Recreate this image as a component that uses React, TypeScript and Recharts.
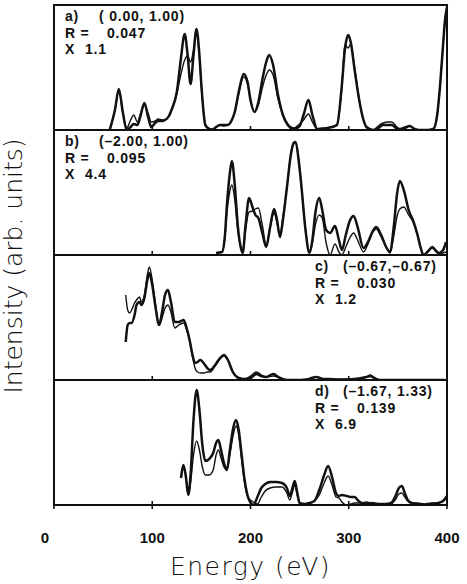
import { LineChart, Line, XAxis, YAxis } from "recharts"

// panel a) ( 0.00, 1.00)
const aEnergy = [57, 62, 66, 70, 74, 78, 81, 85, 88, 92, 96, 99, 103, 106, 110, 113, 117, 120, 125, 129, 133, 136, 139, 142, 145, 148, 150, 154, 158, 161, 165, 169, 173, 177, 181, 184, 188, 193, 197, 200, 204, 208, 212, 216, 219, 223, 228, 233, 238, 244, 250, 254, 259, 263, 268, 273, 278, 283, 288, 293, 296, 299.5, 302, 306, 311, 315, 318, 325, 330, 335, 340, 344, 348, 352, 357, 362, 367, 372, 380, 386, 390, 393, 396, 398, 400]
const aTheory = [1, 20, 41, 18, 0, 3, 6, 5, 14, 27, 12, 3, 7, 9, 9, 10, 14, 21, 38, 70, 96, 75, 46, 75, 101, 75, 45, 5, 1, 0, 3, 5, 5, 5, 10, 18, 38, 56, 48, 30, 18, 28, 50, 68, 75, 65, 35, 15, 5, 1, 4, 15, 30, 15, 1, 1, 2, 3, 5, 45, 80, 95, 88, 60, 28, 10, 3, 0, 2, 5, 5, 5, 2, 1, 2, 4, 1, 0, 0, 1, 15, 45, 85, 110, 123]
const aExpt = [1, 20, 40, 18, 2, 10, 15, 8, 16, 25, 16, 8, 9, 11, 10, 10, 14, 21, 36, 55, 70, 74, 68, 80, 97, 72, 43, 6, 1, 1, 3, 5, 4, 5, 10, 18, 36, 53, 46, 30, 18, 25, 42, 55, 60, 55, 31, 15, 6, 2, 6, 10, 16, 8, 1, 2, 2, 3, 5, 43, 85, 82, 86, 62, 28, 10, 3, 0, 4, 7, 8, 8, 4, 1, 3, 4, 1, 0, 0, 1, 15, 45, 85, 110, 123]

// panel b) (-2.00, 1.00)
const bEnergy = [165, 171, 174, 176, 179, 181, 184, 187, 190, 192, 195, 198.5, 202, 205, 208, 212, 216, 220, 224, 227, 230, 233, 237, 241, 244, 246, 249, 252, 256, 260, 263, 266, 270, 273, 277, 281, 286, 290, 293, 297, 301, 305, 309, 315, 320, 324, 328, 333, 338, 342, 346, 349, 352, 356, 361, 366, 370, 373, 376, 381, 385, 389, 392, 396, 399]
const bTheory = [2, 3, 20, 50, 82, 94, 70, 30, 8, 2, 30, 57, 48, 40, 37, 22, 8, 28, 46, 35, 18, 35, 67, 100, 112, 113, 95, 67, 25, 2, 15, 42, 57, 45, 25, 22, 29, 15, 5, 20, 34, 39, 28, 7, 14, 23, 28, 20, 8, 3, 30, 60, 74, 65, 45, 33, 20, 8, 0, 4, 8, 4, 2, 5, 13]
const bExpt = [2, 3, 18, 42, 64, 70, 55, 25, 8, 3, 25, 43, 44, 46, 47, 30, 10, 28, 42, 32, 20, 38, 67, 100, 112, 112, 95, 67, 25, 3, 12, 30, 40, 37, 12, 0, 11, 3, 0, 8, 17, 22, 15, 3, 12, 22, 26, 18, 8, 2, 20, 38, 46, 48, 40, 32, 20, 8, 0, 4, 7, 3, 1, 2, 3]

// panel c) (-0.67,-0.67)
const cEnergy = [73, 75, 77, 79, 82, 84, 87, 89, 92, 95, 97, 100, 103, 107, 110, 113, 116, 119, 123, 127, 132, 135, 138, 141, 143.5, 146, 149, 153, 156, 159, 164, 169, 173, 177, 182, 188, 194, 200, 206, 211, 216, 223, 230, 237, 247, 257, 262, 267, 274, 281, 290, 305, 313, 318, 322, 326, 332, 350, 370, 385, 398]
const cTheory = [38, 55, 57, 57, 65, 75, 78, 75, 82, 100, 107, 95, 75, 55, 68, 85, 90, 78, 58, 58, 60, 52, 40, 25, 17, 18, 20, 16, 12, 10, 15, 22, 25, 20, 8, 2, 1, 2, 6, 4, 3, 6, 2, 0, 0, 0, 2, 3, 1, 1, 0, 1, 2, 3, 4, 2, 0, 0, 0, 0, 0]
const cExpt = [85, 70, 67, 70, 77, 80, 83, 78, 85, 105, 113, 100, 78, 55, 62, 72, 75, 68, 52, 55, 57, 50, 40, 23, 12, 8, 7, 7, 8, 8, 14, 21, 24, 20, 8, 2, 1, 4, 8, 5, 3, 4, 2, 0, 0, 1, 2, 3, 1, 1, 1, 1, 1, 3, 5, 2, 0, 0, 0, 0, 0]

// panel d) (-1.67, 1.33)
const dEnergy = [129.3, 131.6, 134, 136.7, 139, 142, 145.2, 148, 151, 154, 158, 162, 165, 167.3, 170, 173, 176, 179, 182, 185.3, 188, 191, 194, 197.8, 203, 207, 211, 215, 220, 226, 232, 237, 240, 243, 245, 248, 250, 255, 260, 265, 270, 275, 279, 283, 287, 290, 293, 298, 302, 306, 310, 313, 318, 323, 330, 337, 343, 348, 351, 354, 357, 360, 364, 370, 377, 384, 391, 396, 400]
const dTheory = [27, 40, 30, 10, 30, 85, 115, 95, 60, 44, 46, 52, 62, 65, 55, 42, 35, 55, 75, 85, 75, 50, 25, 7, 0, 8, 17, 21, 23, 23, 22, 17, 9, 18, 24, 10, 2, 1, 2, 4, 15, 30, 39, 28, 12, 9, 10, 9, 8, 8, 4, 2, 1, 2, 1, 1, 2, 10, 17, 19, 12, 5, 2, 1, 0, 1, 2, 4, 9]
const dExpt = [27, 40, 30, 10, 22, 50, 64, 55, 38, 30, 30, 35, 50, 55, 47, 38, 35, 50, 68, 79, 70, 45, 22, 7, 3, 1, 8, 14, 17, 18, 18, 12, 5, 14, 20, 8, 2, 1, 2, 4, 10, 22, 29, 20, 8, 7, 3, 0, 1, 2, 2, 2, 3, 2, 1, 1, 1, 6, 11, 12, 8, 4, 2, 2, 1, 2, 2, 4, 9]

const xTicks = [0, 100, 200, 300, 400]
const sepTicks = [100, 200, 300]

const panels = [
  { energy: aEnergy, theory: aTheory, expt: aExpt, tag: "a)", coords: "( 0.00, 1.00)", r: "0.047", factor: "1.1", side: "left" },
  { energy: bEnergy, theory: bTheory, expt: bExpt, tag: "b)", coords: "(\u20132.00, 1.00)", r: "0.095", factor: "4.4", side: "left" },
  { energy: cEnergy, theory: cTheory, expt: cExpt, tag: "c)", coords: "(\u20130.67,\u20130.67)", r: "0.030", factor: "1.2", side: "right" },
  { energy: dEnergy, theory: dTheory, expt: dExpt, tag: "d)", coords: "(\u20131.67, 1.33)", r: "0.139", factor: "6.9", side: "right" },
]

const LEFT = 54
const TOP = 5
const PW = 393
const PH = 125
const PAD = 25
const INK = "#111"

const SepTick = (props: any) => {
  const { x, y } = props
  return <line x1={x} x2={x} y1={y - 4} y2={y + 4} stroke={INK} strokeWidth={1.6} />
}

const BottomTick = (props: any) => {
  const { x, y, payload } = props
  const dx = payload.value === 0 ? -9 : 0
  return (
    <g>
      <line x1={x} x2={x} y1={y - 4} y2={y + 4} stroke={INK} strokeWidth={1.6} />
      <text x={x + dx} y={y + 38} textAnchor="middle" fontSize={15} fontWeight="bold"
        fontFamily="'Liberation Sans', Arial, sans-serif" fill={INK}>
        {payload.value}
      </text>
    </g>
  )
}

function rows(energy: number[], theory: number[], expt: number[]) {
  return energy.map((e, i) => ({ e, theory: theory[i], expt: expt[i] }))
}

const annoFont: React.CSSProperties = {
  position: "absolute",
  fontFamily: "'Liberation Sans', Arial, sans-serif",
  fontWeight: "bold",
  fontSize: 14,
  lineHeight: "14px",
  letterSpacing: 0.8,
  color: INK,
  whiteSpace: "pre",
}

export default function App() {
  return (
    <div style={{ position: "absolute", left: 0, top: 0, width: 467, height: 584, background: "#fff", overflow: "hidden" }}>
      {panels.map((p, i) => {
        const last = i === panels.length - 1
        const top = TOP + PH * i
        const data = rows(p.energy, p.theory, p.expt)
        const tx = p.side === "left" ? 65 : 315
        const cx = p.side === "left" ? 99 : 343
        const rx = p.side === "left" ? 107 : 357
        const fx = p.side === "left" ? 85 : 335
        const ty = top + 4
        return (
          <div key={p.tag}>
            <LineChart
              width={PW + PAD * 2}
              height={last ? PH + 60 : PH + 1}
              data={data}
              margin={{ top: 0, right: PAD, bottom: 0, left: PAD }}
              style={{ position: "absolute", left: LEFT - PAD, top }}
            >
              <XAxis
                dataKey="e"
                type="number"
                domain={[0, 400]}
                ticks={last ? xTicks : sepTicks}
                interval={0}
                height={last ? 60 : 1}
                tickSize={0}
                tickMargin={0}
                axisLine={{ stroke: INK, strokeWidth: 2 }}
                tickLine={false}
                tick={last ? BottomTick : SepTick}
              />
              <YAxis hide type="number" domain={[0, 125]} allowDataOverflow />
              <Line type="monotone" dataKey="expt" stroke={INK} strokeWidth={1.4} dot={false} isAnimationActive={false} />
              <Line type="monotone" dataKey="theory" stroke={INK} strokeWidth={2.5} dot={false} isAnimationActive={false} />
            </LineChart>
            <div style={{ ...annoFont, left: tx, top: ty }}>{p.tag}</div>
            <div style={{ ...annoFont, left: cx, top: ty }}>{p.coords}</div>
            <div style={{ ...annoFont, left: tx, top: ty + 16.5 }}>R =</div>
            <div style={{ ...annoFont, left: rx, top: ty + 16.5 }}>{p.r}</div>
            <div style={{ ...annoFont, left: tx, top: ty + 33 }}>X</div>
            <div style={{ ...annoFont, left: fx, top: ty + 33 }}>{p.factor}</div>
          </div>
        )
      })}
      <div
        style={{
          position: "absolute", left: LEFT - 1, top: TOP - 1, width: PW + 2, height: PH * 4 + 2,
          border: `2px solid ${INK}`, boxSizing: "border-box", pointerEvents: "none",
        }}
      />
      <div
        style={{
          position: "absolute", left: LEFT + PW / 2 - 110, width: 220, top: 552, textAlign: "center",
          fontFamily: "'DejaVu Sans', sans-serif", fontWeight: 300, fontSize: 25, lineHeight: "30px",
          letterSpacing: 1.5, color: INK,
        }}
      >
        Energy (eV)
      </div>
      <div
        style={{
          position: "absolute", left: 14 - 140, top: 266 - 15, width: 280, height: 30, textAlign: "center",
          transform: "rotate(-90deg)", fontFamily: "'DejaVu Sans', sans-serif", fontWeight: 300,
          fontSize: 25, lineHeight: "30px", color: INK, whiteSpace: "nowrap",
        }}
      >
        Intensity (arb. units)
      </div>
    </div>
  )
}
